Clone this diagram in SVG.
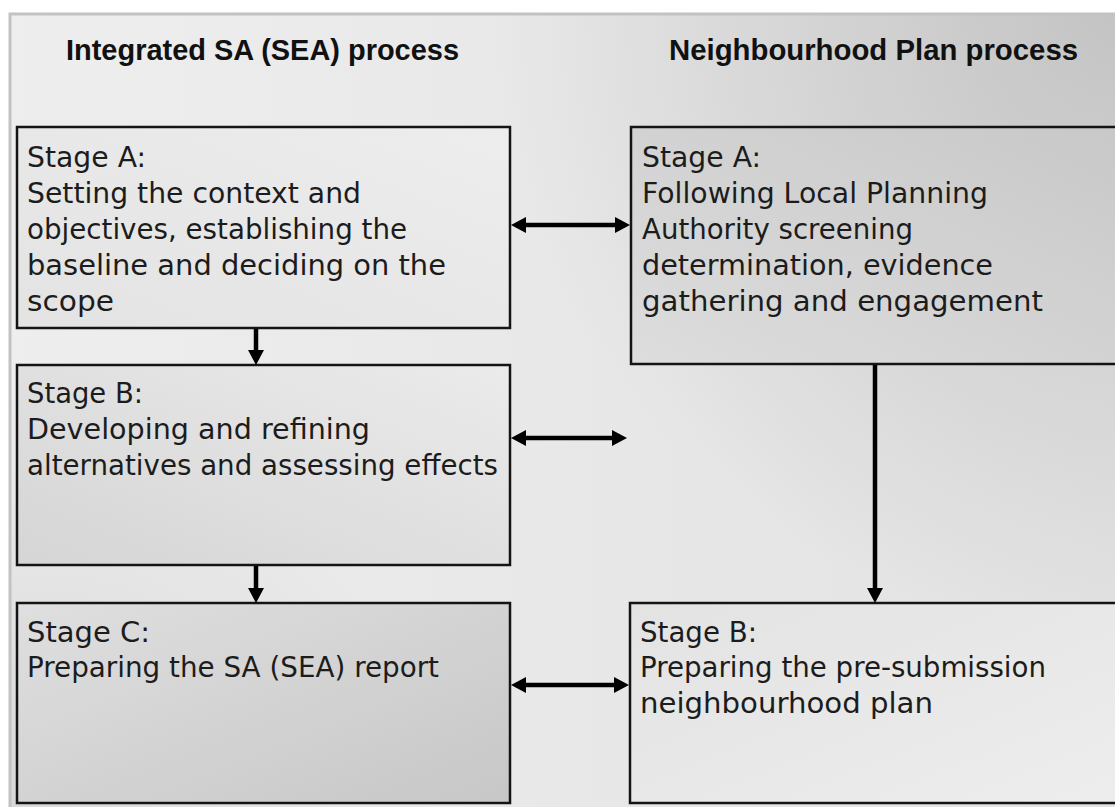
<svg xmlns="http://www.w3.org/2000/svg" width="1115" height="807" viewBox="0 0 1115 807">
  <style>
    .box { stroke: #141414; stroke-width: 2.5; }
    .t { font-family: "DejaVu Sans", sans-serif; font-size: 28.5px; fill: #1c1c1c; }
    .h { font-family: "Liberation Sans", Arial, sans-serif; font-size: 30px; font-weight: bold; fill: #111; }
    .c { stroke: #000; stroke-width: 4.5; fill: none; }
  </style>
  <defs>
    <linearGradient id="bg" x1="0" y1="0" x2="1" y2="0">
      <stop offset="0" stop-color="#eeeeee"/>
      <stop offset="0.5" stop-color="#e8e8e8"/>
      <stop offset="1" stop-color="#e2e2e2"/>
    </linearGradient>
    <radialGradient id="bgTR" cx="1115" cy="13" r="620" gradientUnits="userSpaceOnUse">
      <stop offset="0" stop-color="#c4c4c4" stop-opacity="1"/>
      <stop offset="1" stop-color="#c4c4c4" stop-opacity="0"/>
    </radialGradient>
    <radialGradient id="bgBL" cx="9" cy="807" r="420" gradientUnits="userSpaceOnUse">
      <stop offset="0" stop-color="#cfcfcf" stop-opacity="0.7"/>
      <stop offset="1" stop-color="#cfcfcf" stop-opacity="0"/>
    </radialGradient>
    <linearGradient id="gA" x1="1" y1="0" x2="0" y2="1">
      <stop offset="0" stop-color="#ededed"/>
      <stop offset="1" stop-color="#e3e3e3"/>
    </linearGradient>
    <linearGradient id="gRA" x1="1" y1="0" x2="0" y2="1">
      <stop offset="0" stop-color="#c8c8c8"/>
      <stop offset="1" stop-color="#dddddd"/>
    </linearGradient>
    <linearGradient id="gB" x1="1" y1="0" x2="0" y2="1">
      <stop offset="0" stop-color="#ebebeb"/>
      <stop offset="1" stop-color="#d5d5d5"/>
    </linearGradient>
    <linearGradient id="gC" x1="0" y1="0" x2="1" y2="1">
      <stop offset="0" stop-color="#dfdfdf"/>
      <stop offset="1" stop-color="#c7c7c7"/>
    </linearGradient>
    <linearGradient id="gRB" x1="0" y1="0" x2="1" y2="1">
      <stop offset="0" stop-color="#e3e3e3"/>
      <stop offset="1" stop-color="#ededed"/>
    </linearGradient>
    <marker id="ah" viewBox="0 0 15 16" markerWidth="15" markerHeight="16" refX="6" refY="8" orient="auto-start-reverse" markerUnits="userSpaceOnUse">
      <path d="M0,0 L15,8 L0,16 z" fill="#000"/>
    </marker>
  </defs>

  <rect x="0" y="0" width="1115" height="807" fill="#ffffff"/>
  <rect x="9" y="13" width="1110" height="800" fill="url(#bg)"/>
  <rect x="9" y="13" width="1110" height="800" fill="url(#bgTR)"/>
  <rect x="9" y="13" width="1110" height="800" fill="url(#bgBL)"/>
  <path d="M10,807 V14 H1115" fill="none" stroke="#c2c2c2" stroke-width="3"/>

  <g id="title-left">
    <text class="h" x="66" y="60" textLength="393" lengthAdjust="spacingAndGlyphs">Integrated SA (SEA) process</text>
  </g>
  <g id="title-right">
    <text class="h" x="669" y="60" textLength="409" lengthAdjust="spacingAndGlyphs">Neighbourhood Plan process</text>
  </g>

  <g id="sa-stage-a">
    <rect class="box" x="17" y="127" width="493" height="201" fill="url(#gA)"/>
    <text class="t" x="27" y="167" textLength="119" lengthAdjust="spacingAndGlyphs">Stage A:</text>
    <text class="t" x="27" y="203" textLength="334" lengthAdjust="spacingAndGlyphs">Setting the context and</text>
    <text class="t" x="27" y="239" textLength="380" lengthAdjust="spacingAndGlyphs">objectives, establishing the</text>
    <text class="t" x="27" y="275" textLength="419" lengthAdjust="spacingAndGlyphs">baseline and deciding on the</text>
    <text class="t" x="27" y="311" textLength="87" lengthAdjust="spacingAndGlyphs">scope</text>
  </g>

  <g id="sa-stage-b">
    <rect class="box" x="17" y="365" width="493" height="200" fill="url(#gB)"/>
    <text class="t" x="27" y="403" textLength="116" lengthAdjust="spacingAndGlyphs">Stage B:</text>
    <text class="t" x="27" y="439" textLength="343" lengthAdjust="spacingAndGlyphs">Developing and refining</text>
    <text class="t" x="27" y="475" textLength="471" lengthAdjust="spacingAndGlyphs">alternatives and assessing effects</text>
  </g>

  <g id="sa-stage-c">
    <rect class="box" x="17" y="603" width="493" height="200" fill="url(#gC)"/>
    <text class="t" x="27" y="642" textLength="123" lengthAdjust="spacingAndGlyphs">Stage C:</text>
    <text class="t" x="27" y="677" textLength="412" lengthAdjust="spacingAndGlyphs">Preparing the SA (SEA) report</text>
  </g>

  <g id="np-stage-a">
    <rect class="box" x="631" y="127" width="500" height="237" fill="url(#gRA)"/>
    <text class="t" x="642" y="167" textLength="119" lengthAdjust="spacingAndGlyphs">Stage A:</text>
    <text class="t" x="642" y="203" textLength="346" lengthAdjust="spacingAndGlyphs">Following Local Planning</text>
    <text class="t" x="642" y="239" textLength="271" lengthAdjust="spacingAndGlyphs">Authority screening</text>
    <text class="t" x="642" y="275" textLength="351" lengthAdjust="spacingAndGlyphs">determination, evidence</text>
    <text class="t" x="642" y="311" textLength="401" lengthAdjust="spacingAndGlyphs">gathering and engagement</text>
  </g>

  <g id="np-stage-b">
    <rect class="box" x="630" y="603" width="500" height="200" fill="url(#gRB)"/>
    <text class="t" x="640" y="642" textLength="117" lengthAdjust="spacingAndGlyphs">Stage B:</text>
    <text class="t" x="640" y="677" textLength="406" lengthAdjust="spacingAndGlyphs">Preparing the pre-submission</text>
    <text class="t" x="640" y="713" textLength="293" lengthAdjust="spacingAndGlyphs">neighbourhood plan</text>
  </g>

  <g id="connectors">
    <line class="c" x1="520" y1="225" x2="621" y2="225" marker-start="url(#ah)" marker-end="url(#ah)"/>
    <line class="c" x1="520" y1="438" x2="618" y2="438" marker-start="url(#ah)" marker-end="url(#ah)"/>
    <line class="c" x1="520" y1="685" x2="620" y2="685" marker-start="url(#ah)" marker-end="url(#ah)"/>
    <line class="c" x1="256" y1="329" x2="256" y2="356" marker-end="url(#ah)"/>
    <line class="c" x1="256" y1="566" x2="256" y2="594" marker-end="url(#ah)"/>
    <line class="c" x1="875" y1="365" x2="875" y2="594" marker-end="url(#ah)"/>
  </g>
</svg>
